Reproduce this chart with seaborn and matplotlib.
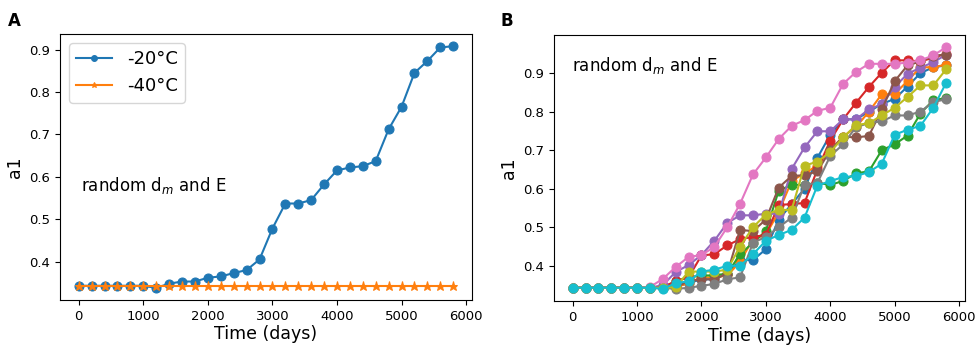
import numpy as np
import pandas as pd
import matplotlib
matplotlib.use("Agg")
import matplotlib.pyplot as plt
import seaborn as sns

# --- data ---
TIME = list(range(0, 6000, 200))  # 0 .. 5800 days

# panel A
A_MINUS20 = [0.343, 0.343, 0.343, 0.343, 0.343, 0.343, 0.338, 0.348, 0.353, 0.353,
             0.362, 0.365, 0.373, 0.380, 0.405, 0.478, 0.537, 0.537, 0.545, 0.582,
             0.615, 0.622, 0.625, 0.637, 0.712, 0.765, 0.845, 0.873, 0.905, 0.908]
A_MINUS40 = [0.343] * 30

# panel B: ten random runs (tab10 order)
B_BLUE = [0.343, 0.343, 0.343, 0.343, 0.343, 0.343, 0.343, 0.343, 0.345, 0.355,
          0.365, 0.365, 0.380, 0.415, 0.415, 0.443, 0.520, 0.560, 0.600, 0.680,
          0.740, 0.780, 0.780, 0.800, 0.820, 0.833, 0.865, 0.900, 0.915, 0.920]
B_ORANGE = [0.343, 0.343, 0.343, 0.343, 0.343, 0.343, 0.343, 0.343, 0.345, 0.355,
            0.370, 0.370, 0.375, 0.410, 0.470, 0.480, 0.540, 0.620, 0.640, 0.660,
            0.700, 0.735, 0.760, 0.800, 0.845, 0.845, 0.880, 0.915, 0.915, 0.922]
B_GREEN = [0.343, 0.343, 0.343, 0.343, 0.343, 0.343, 0.343, 0.343, 0.360, 0.370,
           0.375, 0.375, 0.380, 0.430, 0.460, 0.490, 0.595, 0.610, 0.610, 0.615,
           0.610, 0.620, 0.640, 0.645, 0.700, 0.715, 0.738, 0.795, 0.830, 0.835]
B_RED = [0.343, 0.343, 0.343, 0.343, 0.343, 0.343, 0.343, 0.345, 0.360, 0.370,
         0.427, 0.430, 0.453, 0.469, 0.475, 0.480, 0.558, 0.560, 0.563, 0.650,
         0.725, 0.780, 0.823, 0.864, 0.901, 0.933, 0.933, 0.930, 0.940, 0.950]
B_PURPLE = [0.343, 0.343, 0.343, 0.343, 0.343, 0.343, 0.343, 0.350, 0.384, 0.402,
            0.428, 0.465, 0.511, 0.531, 0.531, 0.535, 0.535, 0.651, 0.707, 0.749,
            0.749, 0.780, 0.780, 0.806, 0.819, 0.864, 0.898, 0.914, 0.928, 0.948]
B_BROWN = [0.343, 0.343, 0.343, 0.343, 0.343, 0.343, 0.343, 0.343, 0.345, 0.360,
           0.365, 0.365, 0.380, 0.493, 0.490, 0.520, 0.603, 0.633, 0.635, 0.645,
           0.700, 0.735, 0.733, 0.737, 0.806, 0.879, 0.920, 0.930, 0.945, 0.948]
B_PINK = [0.343, 0.343, 0.343, 0.343, 0.343, 0.343, 0.345, 0.366, 0.397, 0.423,
          0.428, 0.449, 0.500, 0.561, 0.637, 0.681, 0.729, 0.763, 0.778, 0.802,
          0.810, 0.872, 0.903, 0.924, 0.924, 0.924, 0.927, 0.933, 0.946, 0.967]
B_GRAY = [0.343, 0.343, 0.343, 0.343, 0.343, 0.343, 0.343, 0.343, 0.340, 0.343,
          0.348, 0.353, 0.365, 0.370, 0.460, 0.475, 0.500, 0.525, 0.610, 0.615,
          0.685, 0.715, 0.760, 0.770, 0.775, 0.790, 0.790, 0.800, 0.825, 0.832]
B_OLIVE = [0.343, 0.343, 0.343, 0.343, 0.343, 0.343, 0.343, 0.343, 0.345, 0.385,
           0.385, 0.385, 0.390, 0.450, 0.500, 0.533, 0.545, 0.545, 0.660, 0.670,
           0.695, 0.733, 0.765, 0.770, 0.790, 0.810, 0.838, 0.868, 0.868, 0.910]
B_CYAN = [0.343, 0.343, 0.343, 0.343, 0.343, 0.343, 0.343, 0.340, 0.355, 0.360,
          0.385, 0.390, 0.400, 0.400, 0.430, 0.465, 0.480, 0.493, 0.525, 0.608,
          0.620, 0.630, 0.633, 0.643, 0.665, 0.740, 0.753, 0.763, 0.810, 0.875]

RUNS = [B_BLUE, B_ORANGE, B_GREEN, B_RED, B_PURPLE,
        B_BROWN, B_PINK, B_GRAY, B_OLIVE, B_CYAN]

XTICKS = [0, 1000, 2000, 3000, 4000, 5000, 6000]
YTICKS = [0.4, 0.5, 0.6, 0.7, 0.8, 0.9]
ANNOT = "random d$_m$ and E"

plt.rcParams['font.family'] = ['DejaVu Sans']
plt.rcParams['mathtext.fontset'] = 'dejavusans'

fig = plt.figure(figsize=(9.76, 3.48), dpi=100)
axA = fig.add_axes([0.0615, 0.138, 0.422, 0.764])
axB = fig.add_axes([0.5676, 0.135, 0.421, 0.764])

# --- panel A ---
df_a = pd.DataFrame({
    'time': TIME * 2,
    'a1': A_MINUS20 + A_MINUS40,
    'temp': ['-20°C'] * len(TIME) + ['-40°C'] * len(TIME),
})
sns.lineplot(data=df_a, x='time', y='a1', hue='temp', style='temp',
             markers=['o', '*'], dashes=False, palette=['tab:blue', 'tab:orange'],
             markersize=6.5, linewidth=1.5, ax=axA)
for ln in axA.lines:
    ln.set_markeredgecolor(ln.get_color())
axA.legend(loc='upper left', fontsize=13, markerscale=0.65, handlelength=2.0)
for ln in axA.get_legend().get_lines():
    ln.set_markeredgecolor(ln.get_color())

# --- panel B ---
df_b = pd.DataFrame({
    'time': TIME * len(RUNS),
    'a1': sum(RUNS, []),
    'run': np.repeat(np.arange(len(RUNS)), len(TIME)),
})
sns.lineplot(data=df_b, x='time', y='a1', hue='run', palette='tab10',
             marker='o', markersize=6.5, linewidth=1.5, legend=False, ax=axB)
for ln in axB.lines:
    ln.set_markeredgecolor(ln.get_color())

for ax in (axA, axB):
    ax.set_xticks(XTICKS)
    ax.set_yticks(YTICKS)
    ax.tick_params(labelsize=9.5)
    ax.set_xlabel('Time (days)', fontsize=12.5, labelpad=2)
    ax.set_ylabel('a1', fontsize=12.5)
    ax.margins(x=0.05, y=0.05)

axA.text(0.05, 0.43, ANNOT, transform=axA.transAxes, fontsize=12, va='center')
axB.text(0.045, 0.885, ANNOT, transform=axB.transAxes, fontsize=12, va='center')

fig.text(0.008, 0.965, 'A', fontsize=12, fontweight='bold', va='top')
fig.text(0.513, 0.965, 'B', fontsize=12, fontweight='bold', va='top')

fig.savefig('out.png', dpi=100)
